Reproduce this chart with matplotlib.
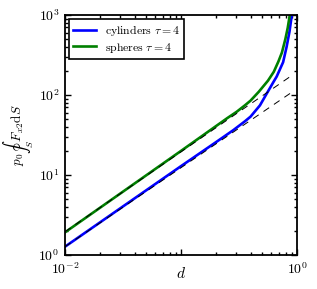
import matplotlib
matplotlib.use("Agg")
import matplotlib.pyplot as plt

plt.rcParams['mathtext.fontset'] = 'cm'
plt.rcParams['font.family'] = ['DejaVu Serif']

# Data
cyl_d = [0.010, 0.100, 0.200, 0.282, 0.355, 0.398, 0.479, 0.550, 0.631, 0.668,
         0.759, 0.813, 0.861, 0.902, 0.923]
cyl_y = [1.27, 12.9, 25.7, 36.3, 46.8, 53.7, 74.1, 105, 148, 170,
         257, 398, 617, 1000, 1300]

sph_d = [0.010, 0.100, 0.251, 0.302, 0.355, 0.398, 0.468, 0.562, 0.631, 0.692,
         0.741, 0.794, 0.832, 0.871, 0.890]
sph_y = [1.92, 20.0, 51.5, 61.7, 74.1, 85.1, 109.6, 151, 195, 263,
         339, 501, 692, 1047, 1400]

asym_d = [0.010, 0.900]
asym_cyl = [1.27, 108]
asym_sph = [1.95, 175]

labels = [r'$\mathrm{cylinders}\ \tau = 4$', r'$\mathrm{spheres}\ \tau = 4$']
xtick_vals = [1e-2, 1e-1, 1e0]
xtick_labels = [r'$10^{-2}$', '', r'$10^{0}$']
ytick_vals = [1e0, 1e1, 1e2, 1e3]
ytick_labels = [r'$10^{0}$', r'$10^{1}$', r'$10^{2}$', r'$10^{3}$']

fig = plt.figure(figsize=(3.17, 2.89), dpi=100)
ax = fig.add_axes([65/317, 34/289, 232/317, 240/289])

ax.plot(cyl_d, cyl_y, color='#0000ff', lw=1.9, label=labels[0], zorder=2)
ax.plot(sph_d, sph_y, color='#008000', lw=1.9, label=labels[1], zorder=2)
ax.plot(asym_d, asym_cyl, color='k', lw=0.7, dashes=(7, 6), zorder=3)
ax.plot(asym_d, asym_sph, color='k', lw=0.7, dashes=(7, 6), zorder=3)

ax.set_xscale('log')
ax.set_yscale('log')
ax.set_xlim(1e-2, 1e0)
ax.set_ylim(1e0, 1e3)
ax.set_xticks(xtick_vals)
ax.set_xticklabels(xtick_labels)
ax.set_yticks(ytick_vals)
ax.set_yticklabels(ytick_labels)

ax.tick_params(which='both', direction='in', top=True, right=True, labelsize=10, width=1.0)
ax.tick_params(which='major', length=4.5)
ax.tick_params(axis='x', which='major', pad=4.5)
ax.tick_params(axis='y', which='major', pad=4)
ax.tick_params(which='minor', length=2.2)
for s in ax.spines.values():
    s.set_linewidth(1.3)

ax.set_xlabel(r'$d$', fontsize=11)
ax.xaxis.set_label_coords(0.5, -0.045)
ax.set_ylabel(r'$p_0\oint_S F_{x2}\mathrm{d}S$', fontsize=9.5)
ax.yaxis.set_label_coords(-0.125, 0.5)

leg = ax.legend(loc='upper left', fontsize=8.5, fancybox=False, framealpha=1,
                edgecolor='k', handlelength=2.0, borderaxespad=0.3,
                labelspacing=0.25, borderpad=0.35, handletextpad=0.7)
leg.get_frame().set_linewidth(1.2)

fig.savefig('out.png', dpi=100)
